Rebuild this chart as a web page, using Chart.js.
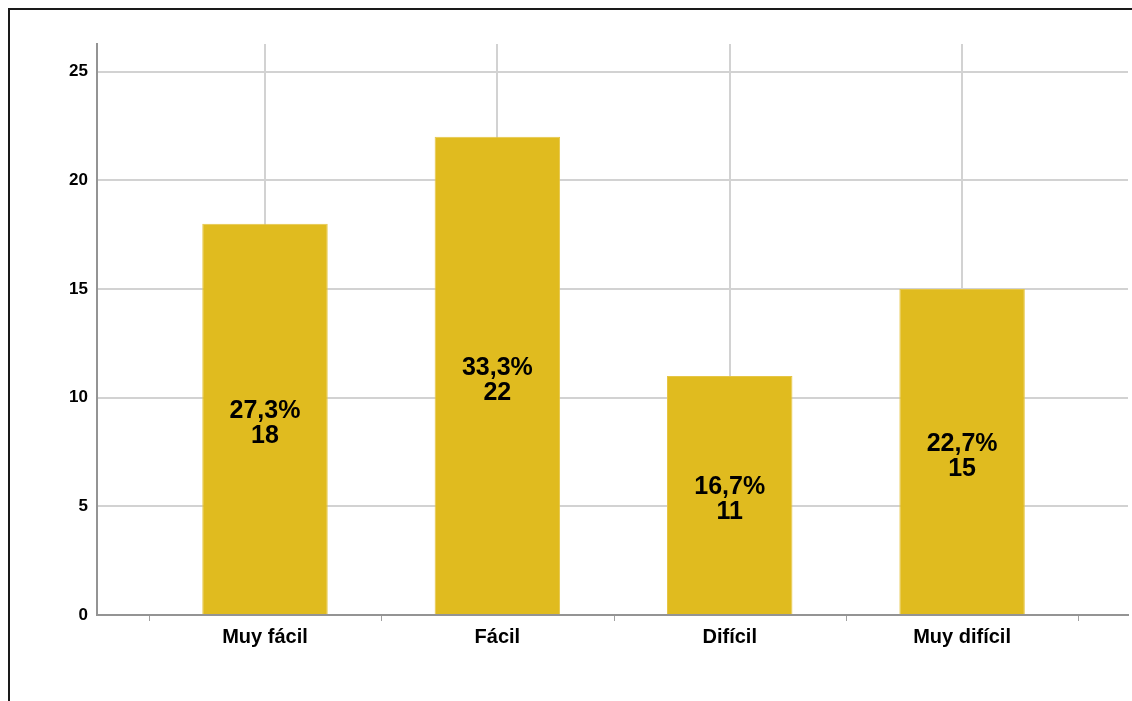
<!DOCTYPE html>
<html>
<head>
<meta charset="utf-8">
<script src="https://cdn.jsdelivr.net/npm/chart.js@4/dist/chart.umd.min.js"></script>
<style>
  html, body { margin: 0; padding: 0; background: #fff; width: 1132px; height: 701px; overflow: hidden; }
  #frame { position: absolute; left: 8px; top: 8px; right: -10px; bottom: -10px; border-top: 2px solid #1a1a1a; border-left: 2px solid #1a1a1a; }
  #wrap { position: absolute; left: 0; top: 0; width: 1132px; height: 701px; }
</style>
</head>
<body>
<div id="frame"></div>
<div id="wrap"><canvas id="c" width="1132" height="701"></canvas></div>
<script>
const categories = ["Muy fácil", "Fácil", "Difícil", "Muy difícil"];
const counts = [18, 22, 11, 15];
const percentLabels = ["27,3%", "33,3%", "16,7%", "22,7%"];
const yTicks = [0, 5, 10, 15, 20, 25];

const FONT = "'Liberation Sans', Arial, sans-serif";

const barLabels = {
  id: 'barLabels',
  afterDatasetsDraw(chart) {
    const ctx = chart.ctx;
    const meta = chart.getDatasetMeta(0);
    ctx.save();
    ctx.fillStyle = '#000';
    ctx.font = 'bold 25px ' + FONT;
    ctx.textAlign = 'center';
    ctx.textBaseline = 'middle';
    meta.data.forEach((bar, i) => {
      const mid = (bar.y + bar.base) / 2 + 5;
      ctx.fillText(percentLabels[i], bar.x, mid - 12.5);
      ctx.fillText(String(counts[i]), bar.x, mid + 12.5);
    });
    ctx.restore();
  }
};

const boundaryTicks = {
  id: 'boundaryTicks',
  afterDraw(chart) {
    const xs = chart.scales.x;
    const ctx = chart.ctx;
    const y0 = chart.chartArea.bottom;
    ctx.save();
    ctx.strokeStyle = '#a0a0a0';
    ctx.lineWidth = 1;
    for (let i = 0; i <= categories.length; i++) {
      const px = Math.round(xs.getPixelForValue(i - 0.5)) + 0.5;
      ctx.beginPath();
      ctx.moveTo(px, y0 + 1);
      ctx.lineTo(px, y0 + 6);
      ctx.stroke();
    }
    ctx.restore();
  }
};

new Chart(document.getElementById('c'), {
  type: 'bar',
  data: {
    datasets: [{
      data: counts.map((v, i) => ({ x: i, y: v })),
      backgroundColor: '#e0bb1f',
      borderColor: '#e6c646',
      borderWidth: 1,
      barPercentage: 0.54,
      categoryPercentage: 1.0
    }]
  },
  options: {
    responsive: false,
    animation: false,
    events: [],
    layout: { padding: { top: 44, right: 4, left: 0, bottom: 0 } },
    plugins: { legend: { display: false }, tooltip: { enabled: false } },
    scales: {
      x: {
        type: 'linear',
        offset: false,
        min: -0.723,
        max: 3.714,
        afterBuildTicks(scale) { scale.ticks = categories.map((_, i) => ({ value: i })); },
        afterFit(scale) { scale.height = 86; },
        grid: { color: '#d2d2d2', lineWidth: 2, drawTicks: false, offset: false },
        border: { color: '#949494', width: 2 },
        ticks: {
          callback: (v) => categories[v] ?? '',
          color: '#000',
          font: { family: FONT, size: 20, weight: 'bold' },
          padding: 10,
          maxRotation: 0,
          autoSkip: false
        }
      },
      y: {
        min: 0,
        max: 26.27,
        afterBuildTicks(scale) { scale.ticks = yTicks.map(v => ({ value: v })); },
        afterFit(scale) { scale.width = 97; },
        grid: { color: '#d2d2d2', lineWidth: 2, drawTicks: false },
        border: { color: '#949494', width: 2 },
        ticks: {
          color: '#000',
          font: { family: FONT, size: 17, weight: 'bold' },
          padding: 9
        }
      }
    }
  },
  plugins: [barLabels, boundaryTicks]
});
</script>
</body>
</html>
